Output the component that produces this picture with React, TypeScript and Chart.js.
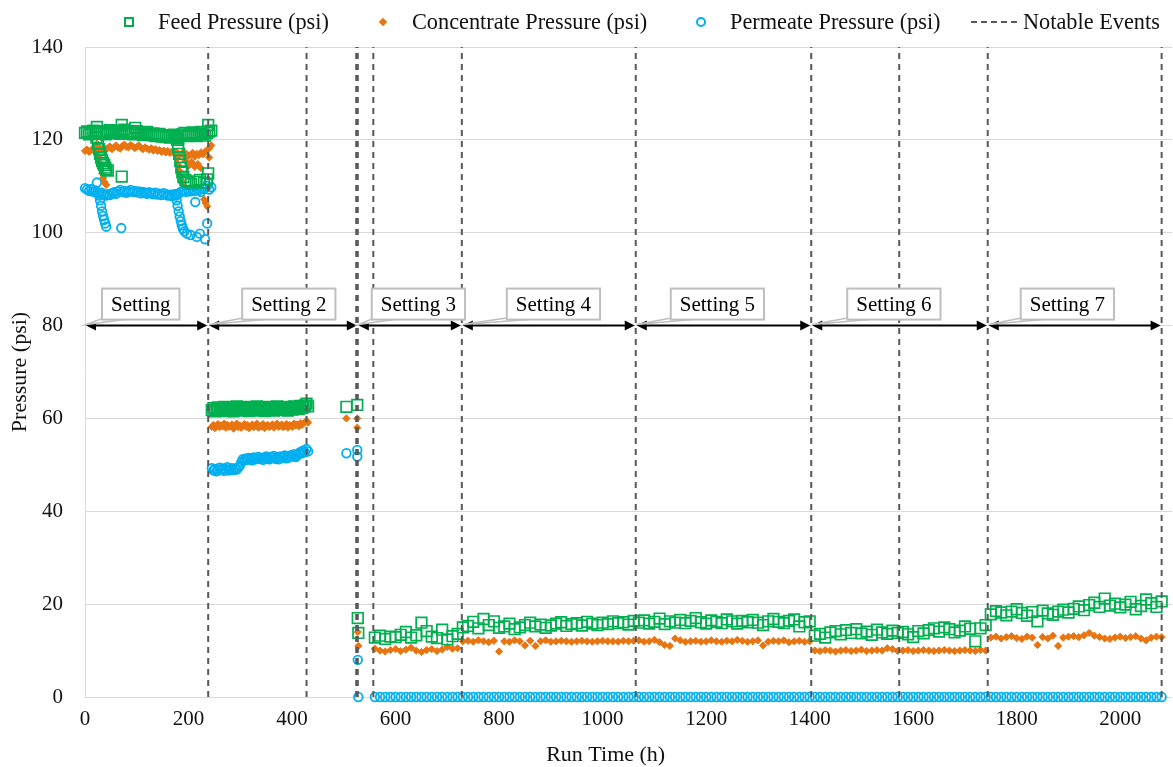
import React, { useEffect, useRef } from 'react';
import { Chart, registerables } from 'chart.js';

Chart.register(...registerables);

// ---------------- DATA ----------------
// Setting 1 run: 0–244 h, one reading every 4 h
const seg1Start = 0;
const seg1Step = 4;
const feedSeg1 = [
  121.5, 121.8, 121.2, 121.6, 122.0, 121.4,
  121.7, 121.3, 121.9, 121.5, 121.2,
  121.8, 122.1, 121.6, 121.4, 122.0, 121.7, 121.3, 121.9, 122.2, 121.6,
  121.5, 121.8, 121.2, 121.6, 121.9, 121.3, 121.5, 121.0, 121.4, 121.7,
  121.2, 121.0, 121.4, 120.8, 121.1, 121.3, 120.7, 121.0, 120.6, 120.9,
  120.5, 120.8, 121.1, 120.6, 120.3, 120.9, 121.2, 121.5, 120.8, 121.0,
  121.3, 121.6, 121.1, 120.8, 121.4, 121.7, 121.2, 120.9, 121.5, 121.8, 122.0,
];
const concSeg1 = [
  117.6, 117.9, 117.4, 117.8, 118.1, 117.5,
  118.6, 118.2, 117.9, 118.3, 118.0,
  118.2, 118.6, 118.0, 118.4, 118.8, 118.3, 118.1, 118.7, 119.0, 118.5,
  118.4, 118.9, 118.6, 118.2, 118.5, 118.8, 118.3, 118.0, 118.4, 118.1,
  117.9, 118.2, 117.7, 118.0, 117.6, 117.8, 117.4, 117.7, 117.3, 117.6,
  117.2, 117.5, 117.1, 117.4, 117.0, 116.8, 117.2, 116.6, 117.0, 116.5,
  116.8, 117.2, 116.4, 117.0, 116.7, 117.3, 116.9, 117.4, 117.8, 118.2, 118.8,
];
const permSeg1 = [
  109.6, 109.3, 109.0, 109.4, 108.8, 109.1,
  108.7, 108.4, 108.6, 108.2, 108.0,
  108.3, 108.1, 108.5, 108.7, 108.4, 108.9, 109.2, 108.8, 109.0, 108.6,
  108.9, 109.2, 108.8, 109.0, 108.7, 108.9, 108.5, 108.8, 108.6, 108.4,
  108.7, 108.5, 108.3, 108.6, 108.2, 108.4, 108.1, 108.5, 108.3, 108.0,
  108.2, 107.9, 108.3, 108.0, 108.4, 108.7, 108.9, 109.1, 108.8, 109.2,
  108.9, 109.3, 109.0, 109.5, 109.2, 108.8, 109.4, 109.6, 110.1, 109.3, 109.8,
];
// extra readings during the setting 1 pressure drops [h, psi]
const feedDrops1: [number, number][] = [
  [22, 120.5], [25, 119.2], [27, 118], [29, 117], [31, 116.2], [33, 115.5], [35, 115],
  [37, 114.6], [39, 114], [41, 113.6], [44, 113.4],
  [23, 122.8], [71, 123.2], [97, 122.6], [238, 123.2], [238, 112.8], [71, 112.1],
  [178, 120], [180, 118.5], [182, 117], [184, 115.5], [186, 114], [188, 113], [190, 112],
  [194, 111.3], [198, 111], [205, 110.5], [214, 111], [222, 111.4], [230, 110.8], [236, 111.5],
];
const concDrops1: [number, number][] = [
  [23, 119.2], [25, 117.5], [27, 116.2], [29, 115], [31, 113.8], [33, 112.8], [35, 111.8],
  [37, 111], [39, 110.6], [41, 110.3],
  [176, 117], [178, 116], [180, 114.6], [182, 113.4], [184, 112.2], [186, 111.3], [188, 110.7],
  [194, 115.5], [200, 114.4], [206, 115.2], [212, 114.2], [218, 114.8], [224, 113.9],
  [230, 107.2], [233, 106.4], [236, 105.7], [240, 116.2],
];
const permDrops1: [number, number][] = [
  [23, 110.8], [27, 108], [29, 107], [31, 105.8], [33, 104.6], [35, 103.6], [37, 102.8],
  [39, 102], [41, 101.3], [70, 101],
  [175, 108.2], [177, 107], [179, 105.8], [181, 104.6], [183, 103.5], [185, 102.5], [187, 101.6],
  [189, 100.9], [192, 100.3], [197, 99.8], [204, 99.5], [213, 106.6], [216, 99.1], [222, 99.8],
  [232, 98.6], [236, 102], [238, 110.8],
];

// Setting 2 run: 245–431 h, one reading every 3 h
const seg2Start = 245;
const seg2Step = 3;
const feedSeg2 = [
  61.8, 62.2, 61.5, 62.0, 62.4, 61.7, 62.1, 61.9, 62.5, 61.6,
  62.3, 62.0, 61.8, 62.4, 61.5, 62.1, 62.6, 61.9, 62.2, 61.7,
  62.0, 62.5, 61.8, 62.3, 61.6, 62.1, 62.4, 61.9, 62.0, 62.6,
  61.7, 62.2, 61.9, 62.4, 61.6, 62.1, 62.5, 61.8, 62.0, 62.3,
  61.7, 62.2, 62.6, 61.9, 62.1, 62.4, 61.8, 62.0, 62.5, 61.7,
  62.3, 62.1, 61.9, 62.6, 62.2, 62.4, 62.0, 62.7, 62.3, 62.5,
  62.8, 63.2, 62.6,
];
const concSeg2 = [
  58.2, 58.6, 57.9, 58.4, 58.8, 58.1, 58.5, 58.3, 58.9, 58.0,
  58.6, 58.2, 58.4, 58.7, 57.8, 58.3, 58.9, 58.1, 58.5, 58.0,
  58.4, 58.8, 58.2, 58.6, 57.9, 58.3, 58.7, 58.1, 58.5, 58.9,
  58.0, 58.4, 58.2, 58.8, 57.9, 58.3, 58.6, 58.1, 58.4, 58.7,
  58.0, 58.5, 58.9, 58.2, 58.4, 58.7, 58.1, 58.3, 58.8, 58.0,
  58.6, 58.4, 58.2, 58.9, 58.5, 58.7, 58.3, 59.0, 58.6, 58.9,
  59.2, 59.5, 59.1,
];
const permSeg2 = [
  49.3, 48.8, 49.1, 48.6, 49.0, 49.4, 48.9, 49.2, 48.7, 49.1,
  49.5, 48.8, 49.0, 49.3, 48.9, 49.2, 49.0, 49.4, 49.8, 50.6,
  51.2, 51.0, 51.4, 51.1, 51.5, 51.3, 51.0, 51.6, 51.2, 51.4,
  51.7, 51.3, 51.5, 51.1, 51.6, 51.8, 51.4, 51.2, 51.7, 51.5,
  51.9, 51.3, 51.6, 51.2, 51.8, 51.5, 51.7, 52.0, 51.4, 51.8,
  51.6, 52.1, 51.9, 52.3, 51.7, 52.0, 52.4, 52.8, 52.5, 53.1,
  52.7, 53.4, 52.9,
];

// isolated readings around the setting 2 → 3 change [h, psi]
const feedTransition: [number, number][] = [[505, 62.5], [526, 62.9], [527, 17], [528, 13.8]];
const concTransition: [number, number][] = [[505, 60], [526, 60], [526, 58], [527, 14], [528, 11]];
const permTransition: [number, number][] = [[505, 52.5], [526, 53.2], [526, 51.8], [527, 8], [528, 0]];

// Settings 3–7: 560–2080 h, one reading every 10 h
const seg3Start = 560;
const seg3Step = 10;
const feedSeg3 = [
  // 560–720
  12.8, 13.2, 12.5, 13.0, 12.9, 13.4, 14.0, 12.8, 13.3, 16.0, 14.2, 13.0, 12.7, 14.5, 12.4, 13.1, 13.6,
  // 730–1060
  15.0, 15.3, 16.2, 14.8, 16.8, 15.5, 16.3, 14.9, 15.2, 15.8, 14.6, 15.0, 15.5, 16.0, 15.2, 15.6, 14.9,
  15.4, 15.8, 16.1, 15.3, 15.7, 15.9, 15.4, 16.2, 15.8, 15.5, 16.0, 15.7, 16.3, 15.9, 16.1, 15.6, 16.4,
  // 1070–1400
  16.0, 16.5, 15.8, 16.2, 16.9, 15.7, 16.3, 16.0, 16.6, 15.9, 16.4, 17.0, 16.1, 15.8, 16.5, 16.2, 15.9,
  16.7, 16.3, 15.8, 16.4, 16.1, 16.6, 16.0, 15.5, 16.3, 16.8, 16.2, 15.9, 16.4, 16.7, 15.2, 16.1, 16.3,
  // 1410–1740
  13.2, 13.6, 12.8, 13.9, 14.2, 13.5, 14.4, 13.8, 14.6, 13.7, 14.1, 13.4, 14.5, 13.9, 13.6, 14.3, 13.8,
  14.0, 13.5, 12.9, 14.2, 13.7, 14.4, 14.8, 14.1, 15.0, 14.6, 13.9, 14.3, 15.2, 14.7, 12.0, 14.8, 15.5,
  // 1750–2080
  17.8, 18.5, 18.2, 17.6, 18.4, 18.9, 18.1, 17.5, 18.3, 16.3, 18.6, 18.0, 17.7, 18.4, 18.8, 18.2, 19.0,
  19.5, 18.7, 19.8, 20.3, 19.4, 21.2, 19.7, 20.1, 19.3, 19.9, 20.5, 18.9, 19.6, 21.0, 20.2, 19.4, 20.6,
];
const concSeg3 = [
  // 560–720
  10.4, 10.0, 9.8, 10.1, 10.3, 9.9, 10.2, 10.6, 10.0, 9.7, 10.1, 10.3, 9.9, 10.2, 10.8, 10.4, 10.5,
  // 730–1060
  12.0, 12.1, 11.9, 12.2, 12.0, 11.8, 12.1, 9.8, 12.0, 11.9, 12.2, 12.0, 11.1, 12.1, 11.0, 12.0, 12.2,
  11.9, 12.0, 12.1, 12.0, 11.9, 12.0, 12.1, 12.0, 11.9, 12.0, 12.1, 12.0, 12.0, 11.9, 12.1, 12.0, 12.1,
  // 1070–1400
  12.2, 11.9, 12.0, 12.3, 11.8, 11.2, 11.0, 12.6, 12.2, 11.9, 12.0, 12.1, 11.9, 12.0, 12.2, 12.0, 11.9,
  12.1, 12.0, 12.3, 12.1, 11.9, 12.0, 12.2, 11.1, 11.9, 12.1, 12.0, 12.2, 11.8, 12.0, 12.1, 11.9, 12.0,
  // 1410–1740
  10.0, 9.9, 10.1, 10.0, 9.8, 10.0, 10.1, 9.9, 10.0, 10.2, 9.9, 10.0, 10.1, 10.0, 10.5, 10.3, 9.9,
  10.0, 10.1, 9.9, 10.0, 10.1, 10.0, 9.9, 10.0, 10.1, 10.0, 9.9, 10.0, 10.1, 10.0, 9.9, 10.1, 10.0,
  // 1750–2080
  12.8, 13.0, 12.6, 12.9, 13.1, 12.7, 12.5, 13.0, 12.8, 11.2, 12.9, 12.6, 13.2, 11.0, 12.8, 13.0, 13.1,
  12.9, 13.3, 13.8, 13.2, 12.9, 12.6, 12.5, 12.8, 13.0, 12.7, 12.9, 13.1, 12.6, 12.2, 12.8, 13.0, 12.9,
];
const permSeg3 = [
  // 560–720
  0, 0, 0, 0, 0, 0, 0, 0, 0, 0, 0, 0, 0, 0, 0, 0, 0,
  // 730–1060
  0, 0, 0, 0, 0, 0, 0, 0, 0, 0, 0, 0, 0, 0, 0, 0, 0,
  0, 0, 0, 0, 0, 0, 0, 0, 0, 0, 0, 0, 0, 0, 0, 0, 0,
  // 1070–1400
  0, 0, 0, 0, 0, 0, 0, 0, 0, 0, 0, 0, 0, 0, 0, 0, 0,
  0, 0, 0, 0, 0, 0, 0, 0, 0, 0, 0, 0, 0, 0, 0, 0, 0,
  // 1410–1740
  0, 0, 0, 0, 0, 0, 0, 0, 0, 0, 0, 0, 0, 0, 0, 0, 0,
  0, 0, 0, 0, 0, 0, 0, 0, 0, 0, 0, 0, 0, 0, 0, 0, 0,
  // 1750–2080
  0, 0, 0, 0, 0, 0, 0, 0, 0, 0, 0, 0, 0, 0, 0, 0, 0,
  0, 0, 0, 0, 0, 0, 0, 0, 0, 0, 0, 0, 0, 0, 0, 0, 0,
];

// Notable events (h)
const eventTimes = [238, 428, 524, 526, 527, 557, 728, 1064, 1403, 1573, 1744, 2080];

// Operating settings
const settingLabels = ['Setting', 'Setting 2', 'Setting 3', 'Setting 4', 'Setting 5', 'Setting 6', 'Setting 7'];
const settingStarts = [0, 238, 527, 728, 1064, 1403, 1744];
const settingEnds = [238, 527, 728, 1064, 1403, 1744, 2080];
const settingLevel = 80;

const xTicks = [0, 200, 400, 600, 800, 1000, 1200, 1400, 1600, 1800, 2000];

// ---------------- STYLE ----------------
const FONT = "'Liberation Serif', 'Times New Roman', serif";
const FEED_COLOR = '#00B050';
const CONC_COLOR = '#E87511';
const PERM_COLOR = '#00B0F0';
const EVENT_COLOR = '#595959';
const GRID_COLOR = '#D9D9D9';
const calloutOffsets = [17, 34, 14, 45, 35, 36, 33];
const xTitleFraction = 0.479;

type Pt = { x: number; y: number | null };

function regular(start: number, step: number, vals: number[]): Pt[] {
  return vals.map((v, i) => ({ x: start + i * step, y: v }));
}
function pairs(p: [number, number][]): Pt[] {
  return p.map(([x, y]) => ({ x, y }));
}

const settingsPlugin = {
  id: 'settingsAnnotations',
  afterDatasetsDraw(chart: any) {
    const { ctx, chartArea } = chart;
    const xs = chart.scales.x;
    const ys = chart.scales.y;
    const yPix = ys.getPixelForValue(settingLevel);
    ctx.save();
    // double-headed arrows
    settingStarts.forEach((s, i) => {
      const x0 = xs.getPixelForValue(s);
      const x1 = xs.getPixelForValue(settingEnds[i]);
      ctx.strokeStyle = '#000';
      ctx.fillStyle = '#000';
      ctx.lineWidth = 2;
      ctx.beginPath();
      ctx.moveTo(x0 + 6, yPix);
      ctx.lineTo(x1 - 6, yPix);
      ctx.stroke();
      ctx.beginPath();
      ctx.moveTo(x0 + 1, yPix);
      ctx.lineTo(x0 + 11, yPix - 5);
      ctx.lineTo(x0 + 11, yPix + 5);
      ctx.closePath();
      ctx.fill();
      ctx.beginPath();
      ctx.moveTo(x1 - 1, yPix);
      ctx.lineTo(x1 - 11, yPix - 5);
      ctx.lineTo(x1 - 11, yPix + 5);
      ctx.closePath();
      ctx.fill();
    });
    // callouts
    ctx.font = `21px ${FONT}`;
    settingLabels.forEach((label, i) => {
      const ex = xs.getPixelForValue(settingStarts[i]);
      const w = ctx.measureText(label).width + 18;
      const bh = 31;
      const bx = ex + calloutOffsets[i];
      const by = yPix - 37;
      ctx.beginPath();
      ctx.moveTo(bx + 3, by + bh - 2);
      ctx.lineTo(ex + 1, yPix - 1);
      ctx.lineTo(bx + 22, by + bh);
      ctx.closePath();
      ctx.fillStyle = '#fff';
      ctx.fill();
      ctx.strokeStyle = '#BFBFBF';
      ctx.lineWidth = 1.5;
      ctx.stroke();
      ctx.fillStyle = '#fff';
      ctx.fillRect(bx, by, w, bh);
      ctx.lineWidth = 2;
      ctx.strokeRect(bx, by, w, bh);
      ctx.fillStyle = '#000';
      ctx.textAlign = 'center';
      ctx.textBaseline = 'middle';
      ctx.fillText(label, bx + w / 2, by + bh / 2 + 1);
    });
    // x axis title
    ctx.font = `22px ${FONT}`;
    ctx.fillStyle = '#111';
    ctx.textAlign = 'center';
    ctx.textBaseline = 'middle';
    ctx.fillText('Run Time (h)', chartArea.left + (chartArea.right - chartArea.left) * xTitleFraction, 755);
    ctx.restore();
  },
};

export default function App() {
  const ref = useRef<HTMLCanvasElement | null>(null);

  useEffect(() => {
    if (!ref.current) return;
    const eventData: Pt[] = [];
    eventTimes.forEach((t) => {
      eventData.push({ x: t, y: 0 }, { x: t, y: 140 }, { x: t, y: null });
    });
    const feed = [
      ...regular(seg1Start, seg1Step, feedSeg1),
      ...pairs(feedDrops1),
      ...regular(seg2Start, seg2Step, feedSeg2),
      ...pairs(feedTransition),
      ...regular(seg3Start, seg3Step, feedSeg3),
    ];
    const conc = [
      ...regular(seg1Start, seg1Step, concSeg1),
      ...pairs(concDrops1),
      ...regular(seg2Start, seg2Step, concSeg2),
      ...pairs(concTransition),
      ...regular(seg3Start, seg3Step, concSeg3),
    ];
    const perm = [
      ...regular(seg1Start, seg1Step, permSeg1),
      ...pairs(permDrops1),
      ...regular(seg2Start, seg2Step, permSeg2),
      ...pairs(permTransition),
      ...regular(seg3Start, seg3Step, permSeg3),
    ];

    const chart = new Chart(ref.current, {
      type: 'scatter',
      data: {
        datasets: [
          {
            label: 'Notable Events',
            data: eventData as any,
            showLine: true,
            spanGaps: false,
            borderColor: EVENT_COLOR,
            borderWidth: 2,
            borderDash: [6, 5],
            pointRadius: 0,
            clip: false as any,
          },
          {
            label: 'Feed Pressure (psi)',
            data: feed as any,
            pointStyle: 'rect',
            pointRadius: 7.5,
            borderColor: FEED_COLOR,
            backgroundColor: 'rgba(0,0,0,0)',
            borderWidth: 1.7,
            clip: false as any,
          },
          {
            label: 'Concentrate Pressure (psi)',
            data: conc as any,
            pointStyle: 'rectRot',
            pointRadius: 3.6,
            borderColor: CONC_COLOR,
            backgroundColor: CONC_COLOR,
            borderWidth: 1,
            clip: false as any,
          },
          {
            label: 'Permeate Pressure (psi)',
            data: perm as any,
            pointStyle: 'circle',
            pointRadius: 4.3,
            borderColor: PERM_COLOR,
            backgroundColor: 'rgba(0,0,0,0)',
            borderWidth: 1.8,
            clip: false as any,
          },
        ],
      },
      options: {
        animation: false,
        responsive: false,
        maintainAspectRatio: false,
        events: [],
        layout: { autoPadding: false, padding: { top: 47, right: 1, left: 0, bottom: 0 } },
        plugins: {
          legend: { display: false },
          tooltip: { enabled: false },
        },
        scales: {
          x: {
            type: 'linear',
            min: 0,
            max: 2100,
            afterBuildTicks: (scale: any) => {
              scale.ticks = xTicks.map((v) => ({ value: v }));
            },
            afterFit: (scale: any) => {
              scale.height = 70;
              scale.paddingLeft = 0;
              scale.paddingRight = 0;
            },
            ticks: {
              autoSkip: false,
              maxRotation: 0,
              padding: 10,
              color: '#111',
              font: { family: FONT, size: 21 },
              callback: (v: any) => String(v),
            },
            grid: { display: false, drawTicks: false },
            border: { display: false },
            title: { display: false },
          },
          y: {
            min: 0,
            max: 140,
            afterFit: (scale: any) => {
              scale.width = 85;
              scale.paddingTop = 0;
              scale.paddingBottom = 0;
            },
            ticks: {
              stepSize: 20,
              padding: 22,
              color: '#111',
              font: { family: FONT, size: 21 },
              callback: (v: any) => String(v),
            },
            grid: { color: GRID_COLOR, lineWidth: 1, drawTicks: false },
            border: { display: true, color: GRID_COLOR, width: 1 },
            title: {
              display: true,
              text: 'Pressure (psi)',
              color: '#111',
              font: { family: FONT, size: 22 },
              padding: { top: 7, bottom: 0 },
            },
          },
        },
      } as any,
      plugins: [settingsPlugin],
    });
    return () => chart.destroy();
  }, []);

  const legendText: React.CSSProperties = {
    position: 'absolute',
    top: 11,
    fontFamily: FONT,
    fontSize: 22.3,
    lineHeight: '22px',
    color: '#111',
    whiteSpace: 'nowrap',
  };

  return (
    <div style={{ position: 'fixed', left: 0, top: 0, width: 1173, height: 767, background: '#fff' }}>
      <canvas ref={ref} width={1173} height={767} style={{ display: 'block', width: 1173, height: 767 }} />
      <div style={{ position: 'absolute', left: 124, top: 17, width: 10, height: 10, border: `2px solid ${FEED_COLOR}`, boxSizing: 'border-box' }} />
      <span style={{ ...legendText, left: 158 }}>Feed Pressure (psi)</span>
      <div style={{ position: 'absolute', left: 380, top: 19, width: 6, height: 6, background: CONC_COLOR, transform: 'rotate(45deg)' }} />
      <span style={{ ...legendText, left: 412 }}>Concentrate Pressure (psi)</span>
      <div style={{ position: 'absolute', left: 696, top: 17, width: 10, height: 10, border: `2px solid ${PERM_COLOR}`, borderRadius: '50%', boxSizing: 'border-box' }} />
      <span style={{ ...legendText, left: 730 }}>Permeate Pressure (psi)</span>
      <div style={{ position: 'absolute', left: 971, top: 21, width: 46, height: 0, borderTop: `2px dashed ${EVENT_COLOR}` }} />
      <span style={{ ...legendText, left: 1023 }}>Notable Events</span>
    </div>
  );
}
